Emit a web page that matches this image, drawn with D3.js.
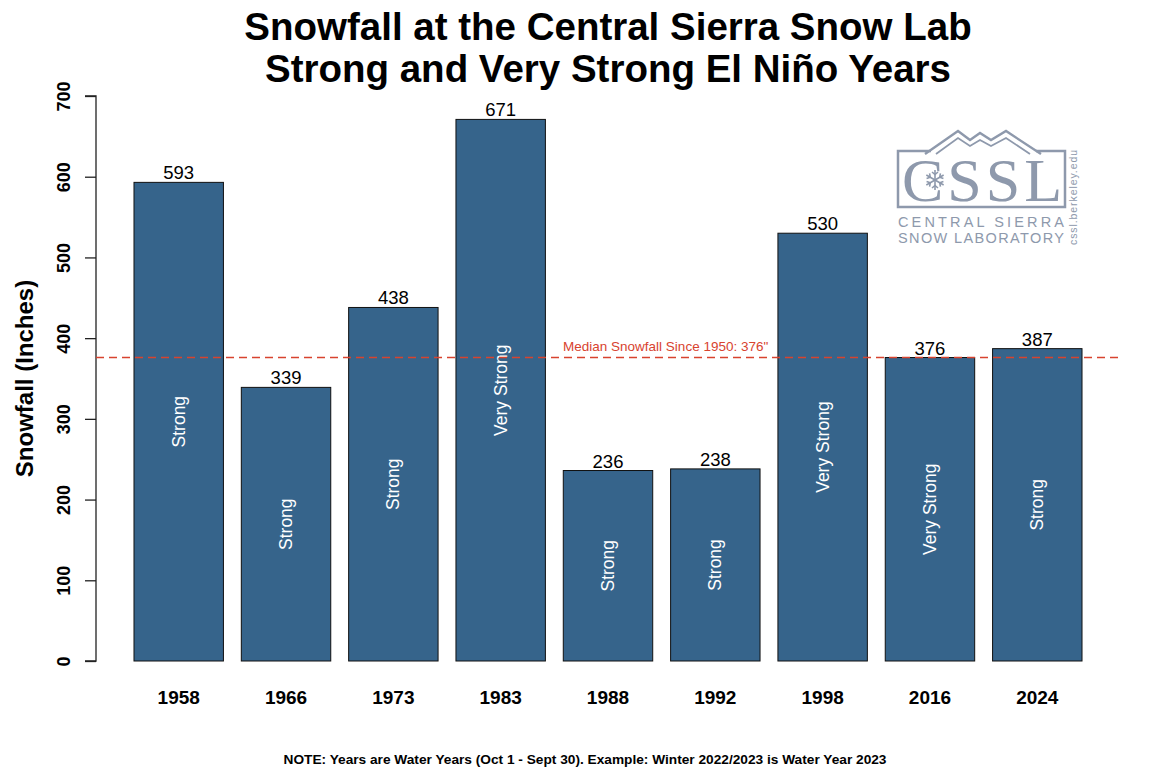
<!DOCTYPE html>
<html>
<head>
<meta charset="utf-8">
<script src="https://cdn.jsdelivr.net/npm/d3@7"></script>
<style>
  body { margin: 0; background: #fff; }
  svg { display: block; font-family: "Liberation Sans", Arial, sans-serif; }
</style>
</head>
<body>
<svg id="chart" width="1170" height="781"></svg>
<script>
// ---- data ----
const years = ["1958", "1966", "1973", "1983", "1988", "1992", "1998", "2016", "2024"];
const snowfall = [593, 339, 438, 671, 236, 238, 530, 376, 387];
const strength = ["Strong", "Strong", "Strong", "Very Strong", "Strong", "Strong", "Very Strong", "Very Strong", "Strong"];
const yTicks = [0, 100, 200, 300, 400, 500, 600, 700];
const medianValue = 376;
const medianLabel = "Median Snowfall Since 1950: 376\"";
const titleLines = ["Snowfall at the Central Sierra Snow Lab", "Strong and Very Strong El Niño Years"];
const yTitle = "Snowfall (Inches)";
const note = "NOTE: Years are Water Years (Oct 1 - Sept 30). Example: Winter 2022/2023 is Water Year 2023";

const data = years.map((y, i) => ({ year: y, value: snowfall[i], strength: strength[i] }));

// ---- layout ----
const svg = d3.select("#chart");
const plot = { left: 96, right: 1120, top: 96, bottom: 661 };
const barColor = "#36648B";
const red = "#d8432f";
const sans = "'Liberation Sans', Arial, sans-serif";

const x = d3.scaleBand()
  .domain(years)
  .range([plot.left, plot.right])
  .paddingInner(0.2 / 1.2)
  .paddingOuter(0.354);

const y = d3.scaleLinear().domain([0, 700]).range([plot.bottom, plot.top]);

// title
svg.append("g").selectAll("text")
  .data(titleLines)
  .join("text")
  .attr("x", (plot.left + plot.right) / 2)
  .attr("y", (d, i) => 40 + i * 42)
  .attr("text-anchor", "middle")
  .attr("font-size", 38.5)
  .attr("font-weight", "bold")
  .attr("fill", "#000")
  .text(d => d);

// y axis
const yAxis = d3.axisLeft(y).tickValues(yTicks).tickSize(11).tickPadding(15).tickFormat(d3.format("d"));
const gy = svg.append("g").attr("transform", `translate(${plot.left},0)`).call(yAxis);
gy.attr("font-family", null);
gy.select(".domain").attr("d", `M-11,${y(0)}H0V${y(700)}H-11`).attr("stroke", "#222").attr("stroke-width", 1.3);
gy.selectAll(".tick line").attr("stroke", "#222").attr("stroke-width", 1.3);
gy.selectAll(".tick text")
  .style("font-family", sans)
  .attr("font-size", 18)
  .attr("font-weight", "bold")
  .attr("fill", "#000")
  .attr("text-anchor", "middle")
  .attr("dy", 0)
  .attr("x", 0)
  .attr("transform", "translate(-26,0) rotate(-90)");

// y title
svg.append("text")
  .attr("transform", `translate(33,${(plot.top + plot.bottom) / 2}) rotate(-90)`)
  .attr("text-anchor", "middle")
  .attr("font-size", 24)
  .attr("font-weight", "bold")
  .text(yTitle);

// bars
svg.append("g").selectAll("rect")
  .data(data)
  .join("rect")
  .attr("x", d => x(d.year))
  .attr("y", d => y(d.value))
  .attr("width", x.bandwidth())
  .attr("height", d => y(0) - y(d.value))
  .attr("fill", barColor)
  .attr("stroke", "#111")
  .attr("stroke-width", 1);

// value labels
svg.append("g").selectAll("text")
  .data(data)
  .join("text")
  .attr("x", d => x(d.year) + x.bandwidth() / 2)
  .attr("y", d => y(d.value) - 3)
  .attr("text-anchor", "middle")
  .attr("font-size", 18.5)
  .attr("fill", "#000")
  .text(d => d.value);

// strength labels inside bars
svg.append("g").selectAll("text")
  .data(data)
  .join("text")
  .attr("transform", d => `translate(${x(d.year) + x.bandwidth() / 2},${(y(d.value) + y(0)) / 2}) rotate(-90)`)
  .attr("text-anchor", "middle")
  .attr("dy", "0.35em")
  .attr("font-size", 17.5)
  .attr("fill", "#fff")
  .text(d => d.strength);

// x labels
svg.append("g").selectAll("text")
  .data(years)
  .join("text")
  .attr("x", d => x(d) + x.bandwidth() / 2)
  .attr("y", 704)
  .attr("text-anchor", "middle")
  .attr("font-size", 19)
  .attr("font-weight", "bold")
  .text(d => d);

// median line
svg.append("line")
  .attr("x1", plot.left).attr("x2", plot.right)
  .attr("y1", y(medianValue)).attr("y2", y(medianValue))
  .attr("stroke", red)
  .attr("stroke-width", 1.3)
  .attr("stroke-dasharray", "8,5");

svg.append("text")
  .attr("x", (x("1988") + x("1992") + x.bandwidth()) / 2 + 4)
  .attr("y", y(medianValue) - 7)
  .attr("text-anchor", "middle")
  .attr("font-size", 13.5)
  .attr("fill", red)
  .text(medianLabel);

// note
svg.append("text")
  .attr("x", 585)
  .attr("y", 764)
  .attr("text-anchor", "middle")
  .attr("font-size", 13.7)
  .attr("font-weight", "bold")
  .text(note);

// ---- CSSL logo ----
const logoColor = "#8e99ac";
const logo = svg.append("g");
// box with gap for mountains
logo.append("path")
  .attr("d", "M931,151 H898 V207 H1065 V151 H1036")
  .attr("fill", "none").attr("stroke", logoColor).attr("stroke-width", 2.5);
// mountains (double outline)
logo.append("path")
  .attr("d", "M925,154 L958,131 L970,140 L980,133 L991,140 L1006,131 L1041,154")
  .attr("fill", "none").attr("stroke", logoColor).attr("stroke-width", 2.4);
logo.append("path")
  .attr("d", "M936,154 L958,138 L970,146 L980,140 L991,146 L1006,138 L1030,154")
  .attr("fill", "none").attr("stroke", logoColor).attr("stroke-width", 1.8);
// CSSL letters
logo.append("text")
  .attr("x", 902).attr("y", 201)
  .style("font-family", "'Liberation Serif', 'DejaVu Serif', serif")
  .attr("font-size", 62)
  .attr("fill", logoColor)
  .attr("textLength", 160)
  .attr("lengthAdjust", "spacing")
  .text("CSSL");
// snowflake inside C
const flake = logo.append("g").attr("transform", "translate(935,180)")
  .attr("stroke", logoColor).attr("stroke-width", 1.6).attr("fill", "none");
d3.range(6).forEach(k => {
  const g = flake.append("g").attr("transform", `rotate(${k * 60})`);
  g.append("line").attr("x1", 0).attr("y1", 0).attr("x2", 0).attr("y2", -10);
  g.append("path").attr("d", "M-3,-8 L0,-5.5 L3,-8");
});
// words
logo.append("text")
  .attr("x", 898).attr("y", 227)
  .attr("font-size", 14.5)
  .attr("fill", logoColor)
  .attr("textLength", 166).attr("lengthAdjust", "spacing")
  .text("CENTRAL SIERRA");
logo.append("text")
  .attr("x", 898).attr("y", 243)
  .attr("font-size", 14.5)
  .attr("fill", logoColor)
  .attr("textLength", 166).attr("lengthAdjust", "spacing")
  .text("SNOW LABORATORY");
logo.append("text")
  .attr("transform", "translate(1077,245) rotate(-90)")
  .attr("font-size", 10.5)
  .attr("fill", logoColor)
  .attr("textLength", 95).attr("lengthAdjust", "spacing")
  .text("cssl.berkeley.edu");
</script>
</body>
</html>
